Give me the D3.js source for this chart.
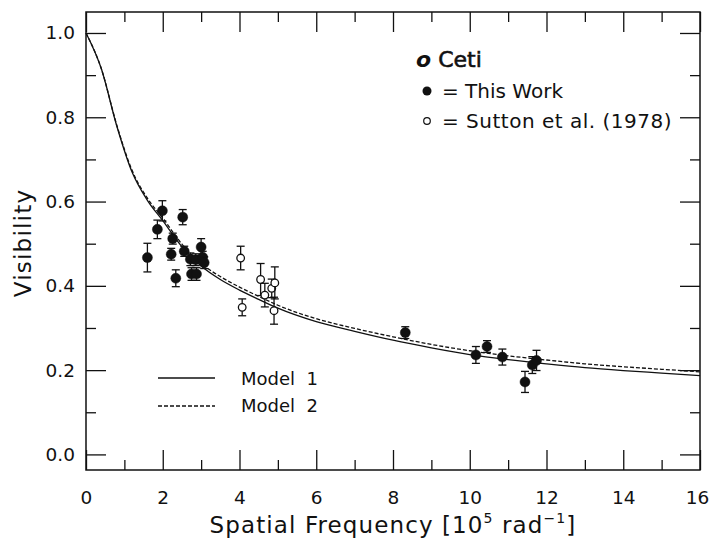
<!DOCTYPE html>
<html>
<head>
<meta charset="utf-8">
<script src="https://cdn.jsdelivr.net/npm/d3@7"></script>
<style>
	body { margin: 0; background: #fff; }
	text { font-family: 'DejaVu Sans', sans-serif; fill: #111; }
</style>
</head>
<body>
<div id="vis"></div>
<script>
// DATA: this work (filled)
let workFreq = [1.60, 1.86, 1.99, 2.22, 2.26, 2.34, 2.52, 2.56, 2.72, 2.75, 2.88, 2.86, 3.00, 3.04, 3.08, 8.32, 10.16, 10.45, 10.85, 11.44, 11.63, 11.74];
let workVis = [0.467, 0.534, 0.578, 0.475, 0.512, 0.418, 0.563, 0.482, 0.463, 0.428, 0.428, 0.462, 0.492, 0.468, 0.455, 0.289, 0.236, 0.256, 0.231, 0.172, 0.212, 0.223];
let workErr = [0.034, 0.022, 0.024, 0.014, 0.013, 0.020, 0.018, 0.012, 0.015, 0.015, 0.015, 0.014, 0.020, 0.014, 0.014, 0.014, 0.020, 0.014, 0.019, 0.025, 0.020, 0.024];

// DATA: Sutton et al. (1978) (open)
let suttonFreq = [4.03, 4.07, 4.55, 4.66, 4.84, 4.92, 4.90];
let suttonVis = [0.466, 0.349, 0.415, 0.378, 0.394, 0.407, 0.341];
let suttonErr = [0.028, 0.020, 0.038, 0.028, 0.022, 0.038, 0.032];

// MODELS
let modelFreq = [0, 0.4, 0.8, 1.2, 1.6, 2.0, 2.5, 3.0, 3.5, 4.0, 4.5, 5.0, 6.0, 7.0, 8.0, 9.0, 10.0, 11.0, 12.0, 13.0, 14.0, 15.0, 16.0];
let model1 = [1.0, 0.915, 0.78, 0.67, 0.603, 0.555, 0.493, 0.447, 0.415, 0.39, 0.368, 0.347, 0.315, 0.292, 0.271, 0.253, 0.237, 0.225, 0.215, 0.206, 0.199, 0.193, 0.187];
let model2 = [1.0, 0.915, 0.782, 0.674, 0.608, 0.561, 0.499, 0.453, 0.422, 0.397, 0.375, 0.354, 0.322, 0.299, 0.279, 0.261, 0.246, 0.234, 0.224, 0.215, 0.208, 0.202, 0.196];

// TICKS
let xMajor = [0, 2, 4, 6, 8, 10, 12, 14, 16];
let xMinor = [1, 3, 5, 7, 9, 11, 13, 15];
let yMajor = [0, 0.2, 0.4, 0.6, 0.8, 1.0];
let yMinor = [0.1, 0.3, 0.5, 0.7, 0.9];

// PARAMETERS
let width = 710, height = 548;
let plot = { left: 86, right: 700, top: 12, bottom: 470 };

let x = d3.scaleLinear().domain([0, 16]).range([plot.left, plot.right]);
let y = d3.scaleLinear().domain([-0.037, 1.0498]).range([plot.bottom, plot.top]);

let svg = d3.select('#vis').append('svg')
	.attr('width', width)
	.attr('height', height);

// AXES (ticks inward on all four sides)
let addAxis = (axis, tr, labels) => {
	let g = svg.append('g').attr('transform', tr).call(axis);
	g.select('.domain').remove();
	g.selectAll('line').attr('stroke', '#111').attr('stroke-width', 1.3);
	if (!labels) g.selectAll('text').remove();
	else g.selectAll('text').attr('font-size', 18.5).attr('fill', '#111').attr('font-family', 'DejaVu Sans');
	return g;
};

let xAxisG = addAxis(d3.axisBottom(x).tickValues(xMajor).tickSize(-20).tickPadding(21).tickFormat(d3.format('d')), `translate(0,${plot.bottom})`, true);
// keep the last label inside the page
xAxisG.selectAll('text').filter(d => d === 16).attr('dx', -3);
addAxis(d3.axisBottom(x).tickValues(xMinor).tickSize(-10).tickFormat(''), `translate(0,${plot.bottom})`, false);
addAxis(d3.axisTop(x).tickValues(xMajor).tickSize(-20).tickFormat(''), `translate(0,${plot.top})`, false);
addAxis(d3.axisTop(x).tickValues(xMinor).tickSize(-10).tickFormat(''), `translate(0,${plot.top})`, false);
addAxis(d3.axisLeft(y).tickValues(yMajor).tickSize(-20).tickPadding(11).tickFormat(d3.format('.1f')), `translate(${plot.left},0)`, true);
addAxis(d3.axisLeft(y).tickValues(yMinor).tickSize(-10).tickFormat(''), `translate(${plot.left},0)`, false);
addAxis(d3.axisRight(y).tickValues(yMajor).tickSize(-20).tickFormat(''), `translate(${plot.right},0)`, false);
addAxis(d3.axisRight(y).tickValues(yMinor).tickSize(-10).tickFormat(''), `translate(${plot.right},0)`, false);

// FRAME
svg.append('rect')
	.attr('x', plot.left).attr('y', plot.top)
	.attr('width', plot.right - plot.left).attr('height', plot.bottom - plot.top)
	.attr('fill', 'none').attr('stroke', '#111').attr('stroke-width', 1.5);

// MODEL CURVES
let line = (vals) => d3.line()
	.x((d, i) => x(modelFreq[i]))
	.y((d, i) => y(vals[i]))
	.curve(d3.curveMonotoneX)(vals);

svg.append('path').attr('d', line(model2))
	.attr('fill', 'none').attr('stroke', '#111').attr('stroke-width', 1.3)
	.attr('stroke-dasharray', '4,2');
svg.append('path').attr('d', line(model1))
	.attr('fill', 'none').attr('stroke', '#111').attr('stroke-width', 1.3);

// POINTS WITH ERROR BARS
let drawPoints = (fx, vy, er, open) => {
	let g = svg.append('g');
	let pts = g.selectAll('g').data(fx).enter().append('g');
	pts.append('line')
		.attr('x1', d => x(d)).attr('x2', d => x(d))
		.attr('y1', (d, i) => y(vy[i] - er[i])).attr('y2', (d, i) => y(vy[i] + er[i]))
		.attr('stroke', '#111').attr('stroke-width', 1.3);
	[-1, 1].forEach(s => {
		pts.append('line')
			.attr('x1', d => x(d) - 4).attr('x2', d => x(d) + 4)
			.attr('y1', (d, i) => y(vy[i] + s * er[i])).attr('y2', (d, i) => y(vy[i] + s * er[i]))
			.attr('stroke', '#111').attr('stroke-width', 1.3);
	});
	pts.append('circle')
		.attr('cx', d => x(d)).attr('cy', (d, i) => y(vy[i]))
		.attr('r', open ? 3.8 : 5)
		.attr('fill', open ? '#fff' : '#111')
		.attr('stroke', '#111').attr('stroke-width', open ? 1.3 : 0.5);
};
drawPoints(suttonFreq, suttonVis, suttonErr, true);
drawPoints(workFreq, workVis, workErr, false);

// LEGEND (top right)
let ceti = svg.append('text').attr('x', 416).attr('y', 67).attr('font-size', 22)
	.attr('stroke', '#111').attr('stroke-width', 0.6);
ceti.append('tspan').attr('font-style', 'italic').attr('font-weight', 'bold').attr('stroke-width', 0).text('o');
ceti.append('tspan').attr('dx', 7).text('Ceti');

svg.append('circle').attr('cx', 427).attr('cy', 91).attr('r', 4.5).attr('fill', '#111');
svg.append('text').attr('x', 442).attr('y', 98).attr('font-size', 20).text('= This Work');
svg.append('circle').attr('cx', 427).attr('cy', 121).attr('r', 3.3).attr('fill', '#fff').attr('stroke', '#111').attr('stroke-width', 1.2);
svg.append('text').attr('x', 442).attr('y', 128).attr('font-size', 20).attr('letter-spacing', 0.5).text('= Sutton et al. (1978)');

// LEGEND (models)
svg.append('line').attr('x1', 158).attr('x2', 215).attr('y1', 378).attr('y2', 378)
	.attr('stroke', '#111').attr('stroke-width', 1.3);
svg.append('line').attr('x1', 158).attr('x2', 215).attr('y1', 406).attr('y2', 406)
	.attr('stroke', '#111').attr('stroke-width', 1.3).attr('stroke-dasharray', '4,2');
svg.append('text').attr('x', 241).attr('y', 385).attr('font-size', 18).attr('xml:space', 'preserve').text('Model  1');
svg.append('text').attr('x', 241).attr('y', 412).attr('font-size', 18).attr('xml:space', 'preserve').text('Model  2');

// AXIS TITLES
let xt = svg.append('text').attr('x', 393).attr('y', 533).attr('font-size', 23)
	.attr('letter-spacing', 1.1).attr('text-anchor', 'middle');
xt.append('tspan').text('Spatial Frequency [10');
xt.append('tspan').attr('font-size', 14).attr('dy', -10).text('5');
xt.append('tspan').attr('dy', 10).text(' rad');
xt.append('tspan').attr('font-size', 14).attr('dy', -10).text('−1');
xt.append('tspan').attr('dy', 10).text(']');

svg.append('text')
	.attr('transform', 'translate(31,243) rotate(-90)')
	.attr('text-anchor', 'middle').attr('font-size', 23).attr('letter-spacing', 1.2)
	.text('Visibility');
</script>
</body>
</html>
